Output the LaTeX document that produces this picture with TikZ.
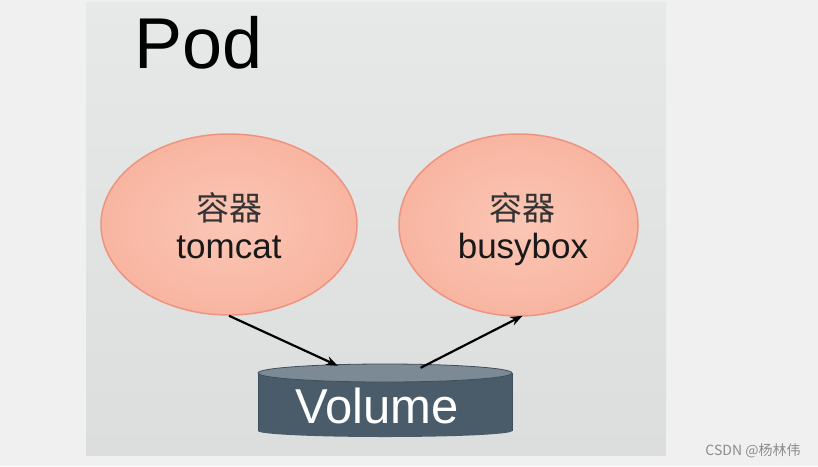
\documentclass[tikz,border=0pt]{standalone}
\usepackage{fontspec}
\setmainfont{Liberation Sans}
\newfontfamily\cjk{Noto Sans CJK SC}
\usetikzlibrary{shapes.geometric,arrows.meta,calc}
\definecolor{outerbg}{HTML}{F0F0F0}
\definecolor{paneltop}{HTML}{E7E8E8}
\definecolor{panelbot}{HTML}{DCDDDD}
\definecolor{podin}{HTML}{FBC6B5}
\definecolor{podout}{HTML}{F8B5A1}
\definecolor{podline}{HTML}{EF9381}
\definecolor{volbody}{HTML}{4A5C6A}
\definecolor{voltop}{HTML}{7C8A95}
\definecolor{volline}{HTML}{3E4F5C}
\definecolor{cjkgray}{HTML}{333333}
\tikzset{
  container/.style={ellipse, draw=podline, line width=1.5pt, inner color=podin, outer color=podout, inner sep=0pt, align=center},
  conn/.style={-{Stealth[length=12pt,width=9pt]}, line width=2.2pt, black},
  cjklabel/.style={font=\cjk\fontsize{33}{35}\selectfont, text=cjkgray},
  namelabel/.style={font=\fontsize{35}{38}\selectfont, text=black!90}
}
\begin{document}
\begin{tikzpicture}[x=1pt,y=-1pt]
\useasboundingbox (0,0) rectangle (818,466);
\fill[outerbg] (0,0) rectangle (818,466);
\shade[top color=paneltop, bottom color=panelbot] (86,2) rectangle (666,455);
\node[anchor=base west, font=\fontsize{72}{74}\selectfont, inner sep=0pt] (pod) at (134,68) {Pod};
% containers
\node[container, minimum width=256pt, minimum height=181pt] (tomcat) at (229,224.5) {};
\node[container, minimum width=239pt, minimum height=182pt] (busybox) at (518.5,225) {};
\node[cjklabel, anchor=base, inner sep=0pt] (t1) at (229,220) {容器};
\node[namelabel, anchor=base, inner sep=0pt] (t2) at (229,258) {tomcat};
\node[cjklabel, anchor=base, inner sep=0pt] (b1) at (522,220) {容器};
\node[namelabel, anchor=base, inner sep=0pt] (b2) at (523,258) {busybox};
% volume cylinder
\fill[volbody] (258,373) rectangle (512,431);
\fill[volbody] (385,431) ellipse (127 and 6);
\draw[volline, line width=0.8pt] (258,373) -- (258,431);
\draw[volline, line width=0.8pt] (512,373) -- (512,431);
\fill[voltop, draw=volline, line width=0.8pt] (385,373) ellipse (127 and 9);
\node[minimum width=254pt, minimum height=74pt, inner sep=0pt] (vol) at (385,401) {};
\node[anchor=base, font=\fontsize{49}{51}\selectfont, text=white, inner sep=0pt] (voltext) at (377,423) {Volume};
% connectors
\draw[conn] (tomcat.south) -- ($(vol.north west)!0.315!(vol.north east)+(0,2)$);
\draw[conn] ($(vol.north west)!0.64!(vol.north east)+(0,4)$) -- ($(busybox.south)+(4,-1)$);
% watermark
\node[font=\cjk\fontsize{14}{16}\selectfont, text=black!45, anchor=base, inner sep=0pt] (wm) at (753,455) {CSDN @杨林伟};
\end{tikzpicture}
\end{document}
